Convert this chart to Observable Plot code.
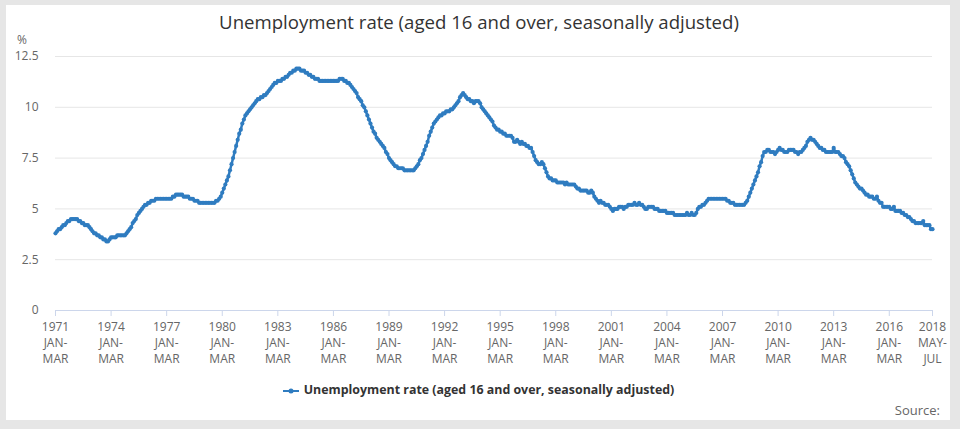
<!DOCTYPE html>
<html><head><meta charset="utf-8">
<script src="https://cdn.jsdelivr.net/npm/d3@7"></script>
<script src="https://cdn.jsdelivr.net/npm/@observablehq/plot@0.6"></script>
<style>
body{margin:0;background:#e6e6e6;font-family:"Open Sans",sans-serif;}
#page{position:relative;width:960px;height:429px;overflow:hidden;}
#card{position:absolute;left:6px;top:5px;width:944px;height:415px;background:#fff;}
#title{position:absolute;left:0;width:958px;top:9px;text-align:center;font-size:18.6px;line-height:26px;color:#333;}
#unit{position:absolute;left:17px;top:34px;font-size:12px;line-height:12px;color:#666;}
#chart{position:absolute;left:0;top:0;}
#legend{position:absolute;top:381px;left:0;width:956px;text-align:center;font-size:12.4px;line-height:18px;font-weight:bold;color:#333;}
#legend svg{vertical-align:middle;margin-right:4px;}
#source{position:absolute;right:20px;top:401px;font-size:13px;color:#666;}
</style></head>
<body>
<div id="page">
  <div id="card"></div>
  <div id="chart"></div>
  <div id="title">Unemployment rate (aged 16 and over, seasonally adjusted)</div>
  <div id="unit">%</div>
  <div id="legend"><svg width="18" height="10"><line x1="1" x2="17" y1="5" y2="5" stroke="#2f7cc0" stroke-width="2"/><circle cx="9" cy="5" r="2.5" fill="#2f7cc0"/></svg>Unemployment rate (aged 16 and over, seasonally adjusted)</div>
  <div id="source">Source:</div>
</div>
<script>
const periods = ["JAN-MAR","FEB-APR","MAR-MAY","APR-JUN","MAY-JUL","JUN-AUG","JUL-SEP","AUG-OCT","SEP-NOV","OCT-DEC","NOV-JAN","DEC-FEB"];
const startYear = 1971;
// 1971-1979, monthly rolling 3-month periods
const rate1970s = [
  3.8,3.9,4.0,4.0,4.1,4.2,4.2,4.3,4.4,4.4,4.5,4.5,
  4.5,4.5,4.5,4.4,4.4,4.3,4.3,4.2,4.2,4.2,4.1,4.0,
  3.9,3.8,3.8,3.7,3.7,3.6,3.6,3.5,3.5,3.4,3.4,3.5,
  3.6,3.6,3.6,3.6,3.7,3.7,3.7,3.7,3.7,3.7,3.8,3.9,
  4.0,4.1,4.3,4.4,4.5,4.7,4.8,4.9,5.0,5.1,5.2,5.2,
  5.3,5.3,5.4,5.4,5.4,5.5,5.5,5.5,5.5,5.5,5.5,5.5,
  5.5,5.5,5.5,5.5,5.6,5.6,5.7,5.7,5.7,5.7,5.7,5.6,
  5.6,5.6,5.6,5.5,5.5,5.5,5.4,5.4,5.4,5.3,5.3,5.3,
  5.3,5.3,5.3,5.3,5.3,5.3,5.3,5.3,5.4,5.4,5.5,5.6
];
const rate1980s = [
  5.8,6.0,6.2,6.4,6.6,6.9,7.2,7.5,7.8,8.1,8.4,8.7,
  8.9,9.2,9.4,9.6,9.7,9.8,9.9,10.0,10.1,10.2,10.3,10.4,
  10.4,10.5,10.5,10.6,10.6,10.7,10.8,10.9,11.0,11.1,11.2,11.2,
  11.3,11.3,11.3,11.4,11.4,11.5,11.5,11.6,11.7,11.7,11.8,11.8,
  11.9,11.9,11.9,11.8,11.8,11.8,11.7,11.7,11.6,11.6,11.5,11.5,
  11.4,11.4,11.4,11.3,11.3,11.3,11.3,11.3,11.3,11.3,11.3,11.3,
  11.3,11.3,11.3,11.3,11.4,11.4,11.4,11.3,11.3,11.2,11.2,11.1,
  11.0,10.9,10.8,10.7,10.5,10.4,10.3,10.1,10.0,9.8,9.6,9.4,
  9.2,9.0,8.8,8.7,8.5,8.4,8.3,8.2,8.1,8.0,7.8,7.7,
  7.5,7.4,7.3,7.2,7.1,7.1,7.0,7.0,7.0,7.0,6.9,6.9
];
const rate1990s = [
  6.9,6.9,6.9,6.9,6.9,7.0,7.1,7.2,7.4,7.5,7.7,7.9,
  8.1,8.3,8.6,8.8,9.0,9.2,9.3,9.4,9.5,9.6,9.6,9.7,
  9.7,9.8,9.8,9.8,9.9,9.9,10.0,10.1,10.2,10.3,10.5,10.6,
  10.7,10.6,10.5,10.4,10.4,10.3,10.3,10.2,10.3,10.3,10.3,10.2,
  10.0,9.9,9.8,9.7,9.6,9.5,9.4,9.3,9.1,9.0,8.9,8.9,
  8.8,8.8,8.7,8.7,8.6,8.6,8.6,8.6,8.5,8.3,8.3,8.4,
  8.3,8.2,8.3,8.2,8.2,8.1,8.1,8.0,8.0,7.8,7.6,7.4,
  7.3,7.2,7.2,7.3,7.2,7.0,6.8,6.6,6.5,6.5,6.4,6.4,
  6.4,6.3,6.3,6.3,6.3,6.3,6.2,6.3,6.2,6.2,6.2,6.2,
  6.2,6.1,6.0,6.0,5.9,5.9,5.9,5.9,5.9,5.8,5.8,5.9
];
const rate2000s = [
  5.8,5.6,5.5,5.4,5.3,5.4,5.3,5.3,5.2,5.2,5.2,5.1,
  5.0,4.9,5.0,5.0,5.0,5.1,5.1,5.1,5.0,5.1,5.1,5.2,
  5.2,5.2,5.2,5.3,5.2,5.2,5.3,5.2,5.2,5.1,5.0,5.0,
  5.1,5.1,5.1,5.1,5.0,5.0,5.0,4.9,4.9,4.9,4.9,4.9,
  4.8,4.8,4.8,4.8,4.8,4.7,4.7,4.7,4.7,4.7,4.7,4.7,
  4.7,4.8,4.7,4.7,4.8,4.7,4.7,4.8,5.0,5.1,5.1,5.2,
  5.2,5.3,5.4,5.5,5.5,5.5,5.5,5.5,5.5,5.5,5.5,5.5,
  5.5,5.5,5.5,5.4,5.4,5.3,5.3,5.3,5.2,5.2,5.2,5.2,
  5.2,5.2,5.2,5.3,5.4,5.6,5.8,6.0,6.2,6.4,6.6,6.8,
  7.1,7.3,7.6,7.8,7.8,7.9,7.9,7.8,7.8,7.8,7.7,7.8
];
const rate2010s = [
  7.9,8.0,7.9,7.9,7.8,7.8,7.8,7.9,7.9,7.9,7.9,7.8,
  7.8,7.7,7.8,7.8,7.9,8.0,8.1,8.3,8.4,8.5,8.4,8.4,
  8.3,8.2,8.1,8.0,8.0,7.9,7.9,7.8,7.8,7.8,7.8,7.8,
  8.0,7.8,7.8,7.8,7.7,7.6,7.6,7.5,7.3,7.2,7.1,6.9,
  6.7,6.5,6.3,6.2,6.1,6.0,6.0,5.9,5.8,5.7,5.7,5.6,
  5.6,5.6,5.5,5.5,5.6,5.4,5.3,5.3,5.1,5.1,5.1,5.1,
  5.1,5.0,5.0,5.1,4.9,4.9,4.9,4.9,4.8,4.8,4.7,4.7,
  4.6,4.6,4.5,4.4,4.4,4.3,4.3,4.3,4.3,4.3,4.4,4.2,
  4.2,4.2,4.2,4.0,4.0
];
const tickYears = ["1971","1974","1977","1980","1983","1986","1989","1992","1995","1998","2001","2004","2007","2010","2013","2016","2018"];
const tickPeriods = ["JAN-MAR","JAN-MAR","JAN-MAR","JAN-MAR","JAN-MAR","JAN-MAR","JAN-MAR","JAN-MAR","JAN-MAR","JAN-MAR","JAN-MAR","JAN-MAR","JAN-MAR","JAN-MAR","JAN-MAR","JAN-MAR","MAY-JUL"];
const yTicks = [0,2.5,5,7.5,10,12.5];

const rates = [...rate1970s, ...rate1980s, ...rate1990s, ...rate2000s, ...rate2010s];
const data = rates.map((v, i) => ({i, year: String(startYear + Math.floor(i / 12)), period: periods[i % 12], v}));
const tickIdx = tickYears.map((y, k) => data.find(d => d.year === y && d.period === tickPeriods[k]).i);
const labelOf = new Map(tickIdx.map((t, k) => [t, tickYears[k] + "\n" + tickPeriods[k].replace("-", "-\n")]));
const blue = "#2f7cc0";

const chart = Plot.plot({
  width: 960, height: 370,
  marginLeft: 55, marginRight: 28, marginTop: 56, marginBottom: 60,
  style: {fontFamily: "Open Sans, sans-serif", fontSize: "12px", color: "#666", background: "transparent", overflow: "visible"},
  x: {type: "linear", domain: [0, rates.length - 1]},
  y: {domain: [0, 12.5]},
  marks: [
    Plot.gridY(yTicks.filter(d => d > 0), {stroke: "#e6e6e6", strokeOpacity: 1, strokeWidth: 1}),
    Plot.axisY({ticks: yTicks, tickSize: 0, tickPadding: 17, tickFormat: d => String(d), label: null, fill: "#666"}),
    Plot.ruleY([0], {stroke: "#ccd6eb", strokeWidth: 1}),
    Plot.axisX({ticks: tickIdx, tickFormat: d => labelOf.get(d), tickSize: 6, tickPadding: 3, stroke: "#ccd6eb", strokeOpacity: 1, label: null, fill: "#666", lineHeight: 1.34}),
    Plot.line(data, {x: "i", y: "v", stroke: blue, strokeWidth: 2.5}),
    Plot.dot(data, {x: "i", y: "v", r: 2.1, fill: blue})
  ]
});
document.getElementById("chart").appendChild(chart);
</script>
</body></html>
